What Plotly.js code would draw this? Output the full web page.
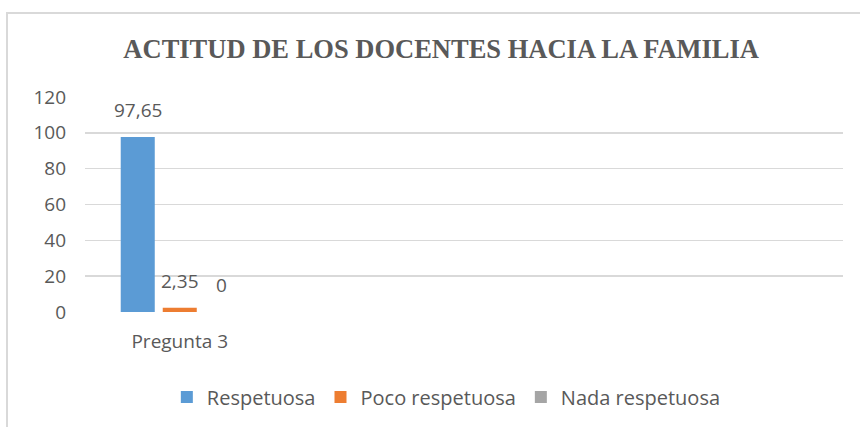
<!DOCTYPE html>
<html>
<head>
<meta charset="utf-8">
<script src="https://cdn.plot.ly/plotly-3.0.1.min.js"></script>
<style>
  html, body { margin: 0; padding: 0; background: #ffffff; }
  #wrap { position: relative; width: 860px; height: 427px; overflow: hidden; }
  #frame { position: absolute; left: 6px; top: 12px; width: 900px; height: 500px;
           border-left: 2px solid #d9d9d9; border-top: 2px solid #d9d9d9; box-sizing: border-box; }
  #chart { position: absolute; left: 0; top: 0; width: 860px; height: 427px; }
</style>
</head>
<body>
<div id="wrap">
  <div id="frame"></div>
  <div id="chart"></div>
</div>
<script>
const categories = ["Pregunta 3"];
const seriesNames = ["Respetuosa", "Poco respetuosa", "Nada respetuosa"];
const respetuosa = [97.65];
const pocoRespetuosa = [2.35];
const nadaRespetuosa = [0];
const colors = ["#5B9BD5", "#ED7D31", "#A5A5A5"];
const yTicks = [0, 20, 40, 60, 80, 100, 120];

const seriesValues = [respetuosa, pocoRespetuosa, nadaRespetuosa];
const fmt = v => String(v).replace('.', ',');
const textColor = "#595959";
const fontFam = "Open Sans, sans-serif";
const fs = 19;

const traces = seriesValues.map((vals, i) => ({
  type: 'bar',
  name: seriesNames[i],
  x: categories,
  y: vals,
  marker: { color: colors[i] },
  hoverinfo: 'none'
}));

// data labels placed above each bar, derived from the data
const catWidthPx = 758 / 4;
const slotPx = catWidthPx * (1 - 0.335) / 3;
const annotations = [];
seriesValues.forEach((vals, i) => {
  vals.forEach((v, j) => {
    annotations.push({
      xref: 'x', yref: 'y', x: categories[j], y: v,
      xshift: (i - 1) * slotPx, yshift: 12,
      text: fmt(v), showarrow: false, yanchor: 'bottom',
      font: { family: fontFam, size: fs, color: textColor }
    });
  });
});

const layout = {
  width: 860, height: 427,
  paper_bgcolor: 'rgba(0,0,0,0)',
  plot_bgcolor: 'rgba(0,0,0,0)',
  margin: { l: 85, r: 17, t: 97, b: 115, pad: 0 },
  title: {
    text: "<b>ACTITUD DE LOS DOCENTES HACIA LA FAMILIA</b>",
    font: { family: "Liberation Serif, Times New Roman, serif", size: 26.5, color: textColor },
    x: 0.513, xanchor: 'center', y: 0.887, yanchor: 'middle'
  },
  barmode: 'group',
  bargap: 0.335,
  bargroupgap: 0.19,
  xaxis: {
    type: 'category',
    range: [-0.5, 3.5],
    tickvals: categories,
    showgrid: false, zeroline: false, showline: false,
    ticks: '', ticklabelstandoff: 16,
    tickfont: { family: fontFam, size: fs, color: textColor },
    fixedrange: true
  },
  yaxis: {
    range: [0, 120],
    tickvals: yTicks,
    showgrid: true, gridcolor: '#d9d9d9', gridwidth: 1.5,
    zeroline: false, showline: false,
    ticks: '', ticklabelstandoff: 18,
    tickfont: { family: fontFam, size: fs, color: textColor },
    fixedrange: true
  },
  showlegend: true,
  legend: {
    orientation: 'h', xref: 'container', yref: 'container',
    x: 0.519, xanchor: 'center', y: 0.07, yanchor: 'middle',
    font: { family: fontFam, size: 20, color: textColor },
    itemwidth: 30, traceorder: 'normal'
  },
  annotations: annotations
};

Plotly.newPlot('chart', traces, layout, { displayModeBar: false, staticPlot: true });
</script>
</body>
</html>
